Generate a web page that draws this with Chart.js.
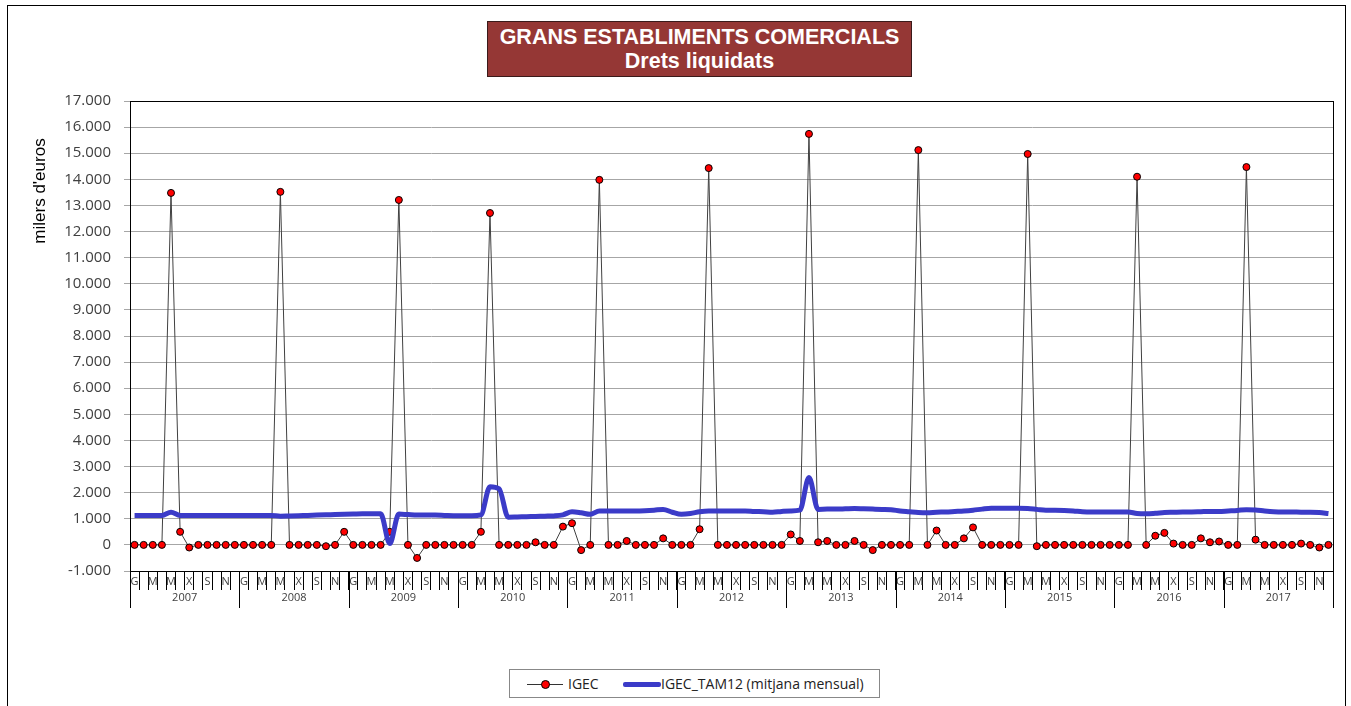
<!DOCTYPE html>
<html>
<head>
<meta charset="utf-8">
<script src="https://cdn.jsdelivr.net/npm/chart.js@4"></script>
<style>
  body { margin: 0; background: #fff; }
  #wrap { position: relative; width: 1351px; height: 706px; overflow: hidden; }
  #frame { position: absolute; left: 7px; top: 5px; width: 1339px; height: 720px; border: 1px solid #000; box-sizing: border-box; }
  #title { position: absolute; left: 487px; top: 21px; width: 425px; height: 56px; background: #953735; border: 1px solid #3a1a1a; box-sizing: border-box;
    color: #fff; font: bold 21.5px "Liberation Sans", Arial, sans-serif; text-align: center; line-height: 24px; padding-top: 3px; }
  #legend { position: absolute; left: 509px; top: 669px; width: 371px; height: 29px; border: 1px solid #888; box-sizing: border-box; background: #fff;
    font: 14px "Open Sans", sans-serif; color: #222; }
  .item { position: absolute; top: 4px; height: 20px; line-height: 20px; }
  canvas { position: absolute; left: 0; top: 0; }
</style>
</head>
<body>
<div id="wrap">
  <div id="frame"></div>
  <canvas id="chart" width="1351" height="706"></canvas>
  <div id="title">GRANS ESTABLIMENTS COMERCIALS<br>Drets liquidats</div>
  <div id="legend">
    <div class="item" style="left:17px;width:38px;">
      <div style="position:absolute;left:0;top:10px;width:36px;height:1px;background:#333"></div>
      <div style="position:absolute;left:14px;top:6px;width:7px;height:7px;border-radius:50%;background:#f00;border:1px solid #000"></div>
    </div>
    <div class="item" style="left:58px;">IGEC</div>
    <div class="item" style="left:113px;width:38px;">
      <div style="position:absolute;left:0;top:8px;width:38px;height:5px;border-radius:2px;background:#3b3bc8"></div>
    </div>
    <div class="item" style="left:151px;">IGEC_TAM12 (mitjana mensual)</div>
  </div>
</div>
<script>
const months = ["G", "F", "M", "A", "M", "J", "X", "A", "S", "O", "N", "D"];
const years = ["2007", "2008", "2009", "2010", "2011", "2012", "2013", "2014", "2015", "2016", "2017"];

// milers d'euros, mensual
const igec = [
  0, 0, 0, 0, 13480, 500, -100, 0, 0, 0, 0, 0,
  0, 0, 0, 0, 13520, 0, 0, 0, 0, -50, 0, 500,
  0, 0, 0, 0, 500, 13210, 0, -500, 0, 0, 0, 0,
  0, 0, 500, 12710, 0, 0, 0, 0, 100, 0, 0, 700,
  830, -200, 0, 13980, 0, 0, 150, 0, 0, 0, 250, 0,
  0, 0, 600, 14430, 0, 0, 0, 0, 0, 0, 0, 0,
  400, 150, 15740, 100, 150, 0, 0, 150, 0, -200, 0, 0,
  0, 0, 15120, 0, 550, 0, 0, 250, 670, 0, 0, 0,
  0, 0, 14970, -50, 0, 0, 0, 0, 0, 0, 0, 0,
  0, 0, 14100, 0, 350, 460, 50, 0, 0, 250, 100, 130,
  0, 0, 14470, 200, 0, 0, 0, 0, 50, 0, -100, 0,
];

const tam12 = [
  1130, 1130, 1130, 1130, 1250, 1130, 1130, 1130, 1130, 1130, 1130, 1130,
  1130, 1130, 1130, 1130, 1100, 1110, 1120, 1130, 1140, 1150, 1160, 1170,
  1180, 1190, 1190, 1190, 50, 1180, 1160, 1140, 1140, 1140, 1130, 1120,
  1120, 1120, 1150, 2230, 2150, 1060, 1070, 1080, 1090, 1100, 1110, 1150,
  1270, 1230, 1170, 1300, 1300, 1300, 1300, 1300, 1310, 1330, 1360, 1250,
  1170, 1200, 1270, 1300, 1300, 1300, 1300, 1300, 1280, 1270, 1250, 1280,
  1300, 1330, 2580, 1360, 1370, 1370, 1380, 1390, 1380, 1370, 1360, 1350,
  1300, 1270, 1240, 1230, 1250, 1260, 1280, 1300, 1330, 1370, 1400, 1400,
  1400, 1400, 1390, 1360, 1330, 1330, 1320, 1300, 1270, 1260, 1260, 1260,
  1260, 1260, 1200, 1190, 1210, 1240, 1250, 1260, 1260, 1270, 1280, 1280,
  1300, 1320, 1350, 1340, 1300, 1270, 1260, 1260, 1250, 1250, 1240, 1200,
];

const labels = [];
years.forEach((y) => months.forEach((m) => labels.push(m + " " + y)));

function fmt(v) {
  const s = Math.abs(v).toString().replace(/\B(?=(\d{3})+(?!\d))/g, ".");
  return (v < 0 ? "-" : "") + s;
}

const extras = {
  id: "extras",
  afterDraw(chart) {
    const { ctx, chartArea: a, scales } = chart;
    const x = scales.x;
    const w = x.getPixelForValue(1) - x.getPixelForValue(0);
    ctx.save();
    // year separators + labels
    ctx.strokeStyle = "#000";
    ctx.lineWidth = 1;
    for (let k = 0; k <= years.length; k++) {
      const bx = k < years.length ? x.getPixelForValue(k * 12) - w / 2 : x.getPixelForValue(k * 12 - 1) + w / 2;
      const px = Math.round(bx) + 0.5;
      ctx.beginPath();
      ctx.moveTo(px, a.bottom);
      ctx.lineTo(px, a.bottom + 37);
      ctx.stroke();
    }
    ctx.fillStyle = "#404040";
    ctx.font = "11px 'Open Sans'";
    ctx.textAlign = "center";
    ctx.textBaseline = "middle";
    years.forEach((y, k) => {
      const cx = (x.getPixelForValue(k * 12) + x.getPixelForValue(k * 12 + 11)) / 2;
      ctx.fillText(y, cx, a.bottom + 27);
    });
    // plot border
    ctx.strokeStyle = "#000";
    ctx.strokeRect(Math.round(a.left) + 0.5, Math.round(a.top) + 0.5, Math.round(a.right - a.left), Math.round(a.bottom - a.top));
    // y title
    ctx.translate(40, 191);
    ctx.rotate(-Math.PI / 2);
    ctx.fillStyle = "#000";
    ctx.font = "17px 'Liberation Sans'";
    ctx.fillText("milers d'euros", 0, 0);
    ctx.restore();
  },
};

Chart.defaults.font.family = "'Open Sans'";

new Chart(document.getElementById("chart"), {
  type: "line",
  data: {
    labels: labels,
    datasets: [
      {
        label: "IGEC",
        data: igec,
        borderColor: "#404040",
        borderWidth: 1,
        pointRadius: 3.5,
        pointBackgroundColor: "#ff0000",
        pointBorderColor: "#000",
        pointBorderWidth: 1,
        tension: 0,
        order: 1,
      },
      {
        label: "IGEC_TAM12 (mitjana mensual)",
        data: tam12,
        borderColor: "#3b3bc8",
        borderWidth: 5,
        pointRadius: 0,
        cubicInterpolationMode: "monotone",
        order: 0,
      },
    ],
  },
  options: {
    responsive: false,
    animation: false,
    layout: { padding: { top: 101, right: 18, left: 0, bottom: 95 } },
    scales: {
      x: {
        offset: true,
        afterFit: (s) => { s.height = 40; },
        grid: { offset: true, drawOnChartArea: false, drawTicks: true, tickLength: 19, color: "#000" },
        border: { display: true, color: "#000" },
        ticks: {
          autoSkip: false,
          maxRotation: 0,
          padding: -15,
          color: "#404040",
          font: { size: 11 },
          callback: (v, i) => (i % 2 === 0 ? months[i % 12] : ""),
        },
      },
      y: {
        min: -1000,
        max: 17000,
        afterFit: (s) => { s.width = 130; },
        grid: { color: "#a6a6a6", tickLength: 6 },
        border: { display: true, color: "#000" },
        ticks: {
          stepSize: 1000,
          padding: 13,
          color: "#404040",
          font: { size: 15 },
          callback: (v) => fmt(v),
        },
      },
    },
    plugins: {
      legend: { display: false },
      tooltip: { enabled: false },
    },
  },
  plugins: [extras],
});
</script>
</body>
</html>
